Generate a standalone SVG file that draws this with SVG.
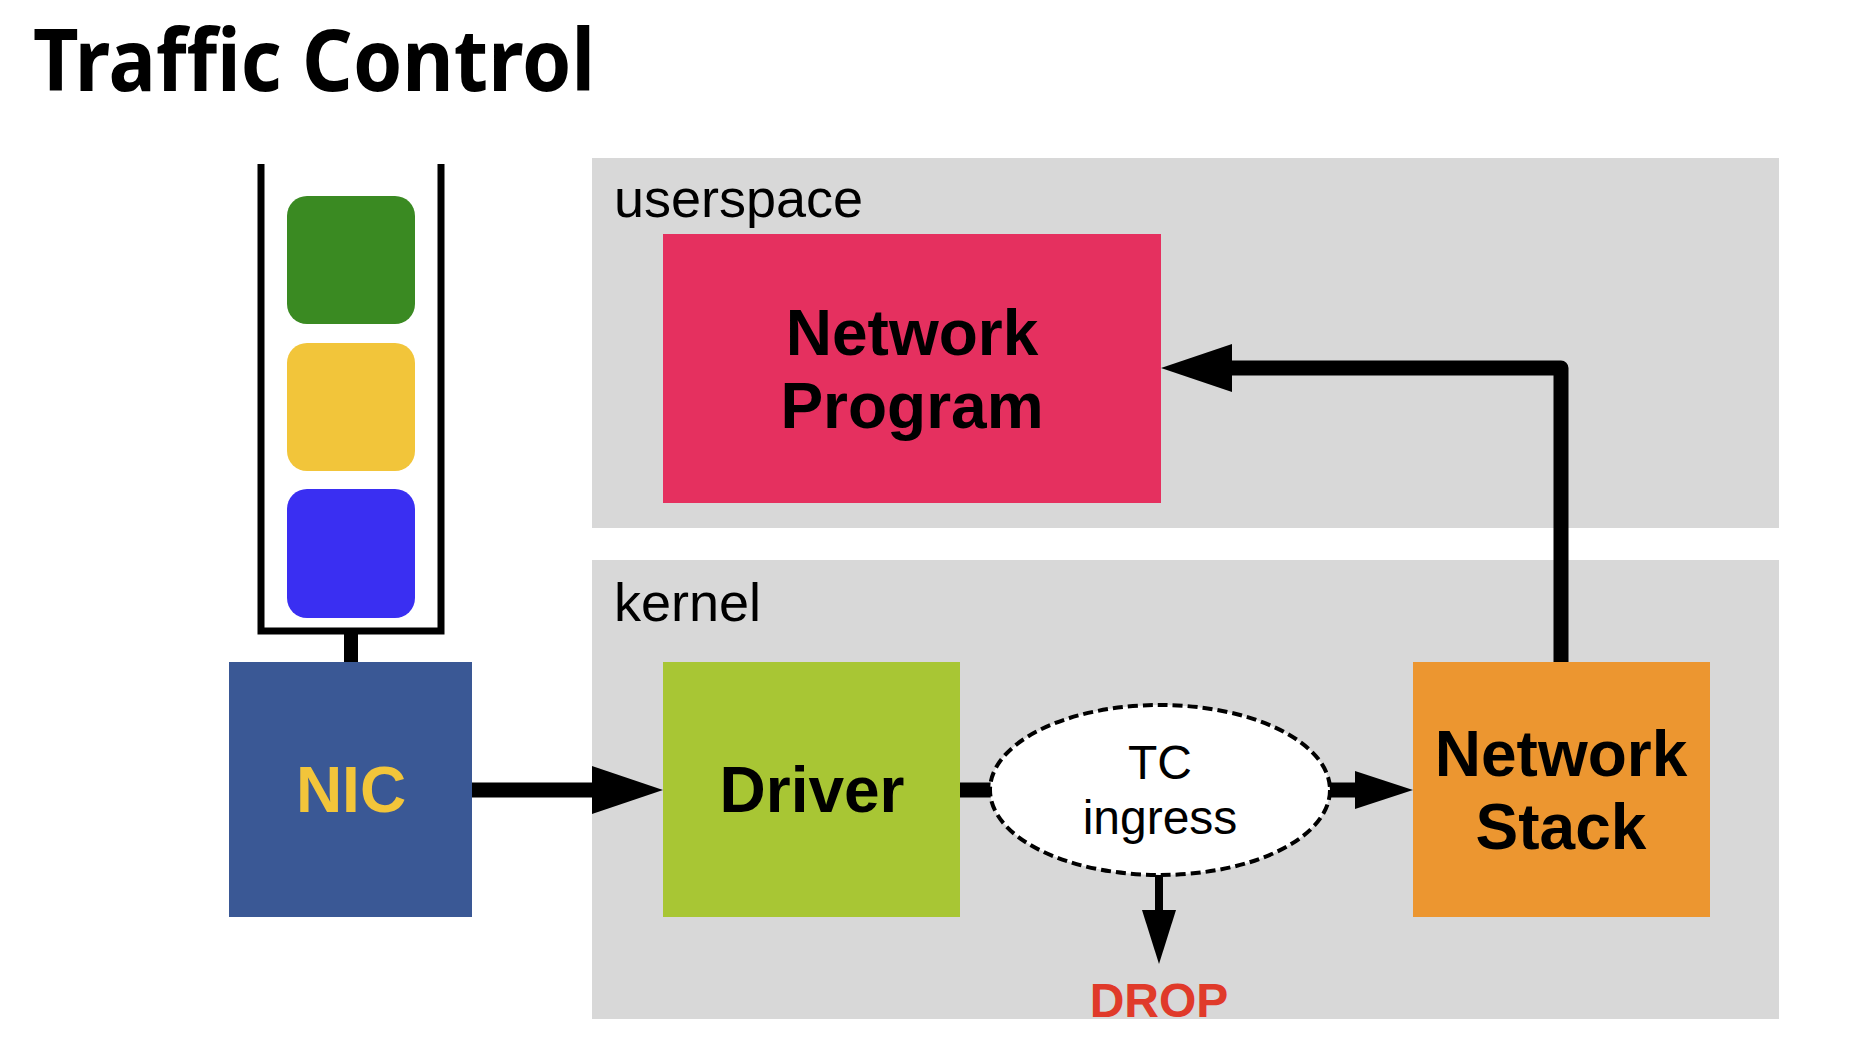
<svg xmlns="http://www.w3.org/2000/svg" width="1866" height="1038" viewBox="0 0 1866 1038">
<style>
.lbl{font-family:"Liberation Sans",Arial,sans-serif;font-weight:bold;font-size:64px;text-anchor:middle;fill:#000}
.area{fill:#d8d8d8}
.areat{font-family:"Liberation Sans",Arial,sans-serif;font-size:54px;fill:#000}
.conn{stroke:#000;fill:none}
.head{fill:#000}
</style>
<rect width="1866" height="1038" fill="#ffffff"/>
<text x="33" y="91" font-family="Noto Sans, Open Sans, sans-serif" font-weight="bold" font-size="86" textLength="562" lengthAdjust="spacingAndGlyphs" fill="#000">Traffic Control</text>

<g id="userspace">
<rect class="area" x="592" y="158" width="1187" height="370"/>
<text class="areat" x="614" y="217">userspace</text>
</g>
<g id="kernel">
<rect class="area" x="592" y="560" width="1187" height="459"/>
<text class="areat" x="614" y="621">kernel</text>
</g>

<g id="queue">
<path d="M261,164 V631 H441 V164" stroke="#000" stroke-width="7" fill="none"/>
<rect x="287" y="196" width="128" height="128" rx="20" fill="#3a8a22"/>
<rect x="287" y="343" width="128" height="128" rx="20" fill="#f2c53a"/>
<rect x="287" y="489" width="128" height="129" rx="20" fill="#3a2ff2"/>
</g>

<g id="nic">
<rect x="229" y="662" width="243" height="255" fill="#3a5895"/>
<text class="lbl" x="351" y="812" style="fill:#f2c53a">NIC</text>
</g>

<g id="driver">
<rect x="663" y="662" width="297" height="255" fill="#a8c634"/>
<text class="lbl" x="812" y="812">Driver</text>
</g>

<g id="network-program">
<rect x="663" y="234" width="498" height="269" fill="#e5305f"/>
<text class="lbl" x="912" y="355">Network</text>
<text class="lbl" x="912" y="428">Program</text>
</g>

<g id="network-stack">
<rect x="1413" y="662" width="297" height="255" fill="#ec9630"/>
<text class="lbl" x="1561" y="776">Network</text>
<text class="lbl" x="1561" y="849">Stack</text>
</g>

<g id="connectors">
<line class="conn" x1="351" y1="633" x2="351" y2="662" stroke-width="14"/>
<line class="conn" x1="472" y1="790" x2="595" y2="790" stroke-width="15"/>
<polygon class="head" points="592,766 663,790 592,814"/>
<line class="conn" x1="960" y1="790" x2="995" y2="790" stroke-width="15"/>
<line class="conn" x1="1328" y1="790" x2="1358" y2="790" stroke-width="15"/>
<polygon class="head" points="1355,771 1413,790 1355,809"/>
<path class="conn" d="M1561,662 V368 H1228" stroke-width="15" stroke-linejoin="round"/>
<polygon class="head" points="1232,344 1161,368 1232,392"/>
<line class="conn" x1="1159" y1="874" x2="1159" y2="912" stroke-width="8"/>
<polygon class="head" points="1142,910 1176,910 1159,964"/>
</g>

<g id="tc-ingress">
<ellipse cx="1160" cy="790" rx="170" ry="85" fill="#fff" stroke="#000" stroke-width="4" stroke-dasharray="10 5"/>
<text x="1160" y="779" font-family="Liberation Sans, Arial, sans-serif" font-size="48" text-anchor="middle" fill="#000">TC</text>
<text x="1160" y="834" font-family="Liberation Sans, Arial, sans-serif" font-size="48" text-anchor="middle" fill="#000">ingress</text>
</g>

<g id="drop">
<text x="1159" y="1017" font-family="Liberation Sans, Arial, sans-serif" font-weight="bold" font-size="48" text-anchor="middle" fill="#e03a2a">DROP</text>
</g>
</svg>
